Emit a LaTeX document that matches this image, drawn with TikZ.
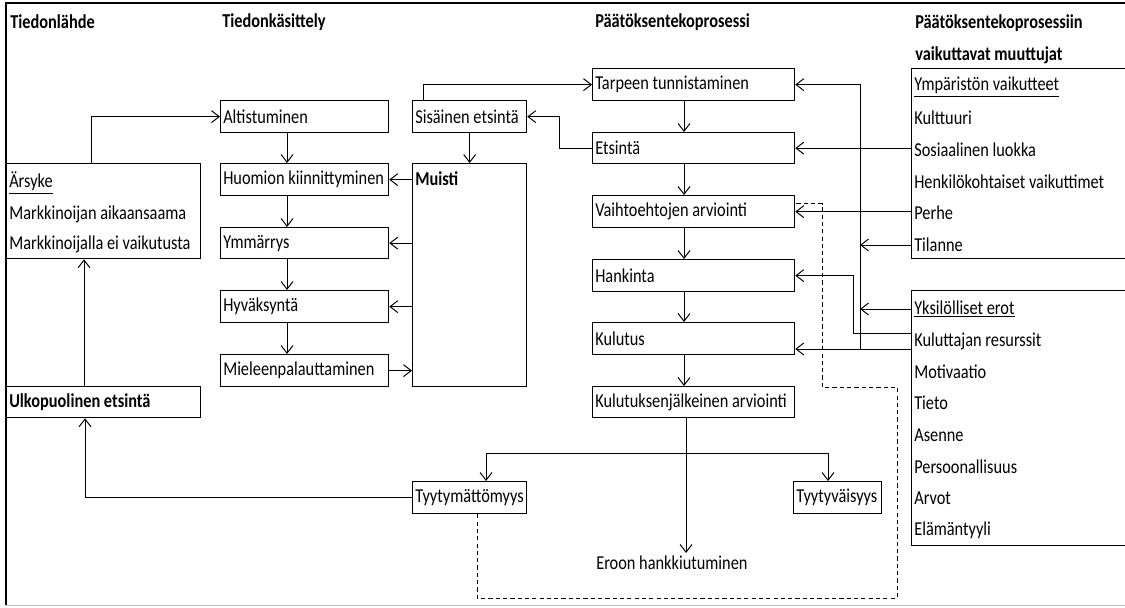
\documentclass[tikz,border=0pt]{standalone}
\usepackage{fontspec}
\setmainfont{Carlito}[FakeStretch=0.83]
\usetikzlibrary{arrows.meta,positioning}
\tikzset{
  laatikko/.style={draw,line width=0.9pt,anchor=north west,inner sep=0pt},
  rivi/.style={anchor=west,inner sep=0pt},
  otsikko/.style={anchor=west,inner sep=0pt,font=\fontsize{14}{16}\selectfont\bfseries},
  nuoli/.style={-{Straight Barb[length=5.5pt,width=8.5pt]},line width=0.7pt},
  katko/.style={line width=0.7pt,dash pattern=on 3pt off 2.2pt},
}
\begin{document}
\begin{tikzpicture}[x=0.025cm,y=-0.025cm,font=\fontsize{14}{16}\selectfont]
\useasboundingbox (0,0) rectangle (1125,607);
% kehys
\draw[line width=1.4pt] (1125,3) -| (6,605);
\draw[black!25] (6,605) -- (1125,605);
% otsikot
\node[otsikko] (o1) at (10,22) {Tiedonlähde};
\node[otsikko] (o2) at (222,22) {Tiedonkäsittely};
\node[otsikko] (o3) at (595,22) {Päätöksentekoprosessi};
\node[otsikko] (o4) at (915,23) {Päätöksentekoprosessiin};
\node[otsikko] (o5) at (915,55) {vaikuttavat muuttujat};
% yhden rivin laatikot
\foreach \nimi/\x/\y/\w/\h/\teksti in {
  alt/220/100/168/32/Altistuminen,
  huo/220/163/168/32/Huomion kiinnittyminen,
  ymm/220/227/168/31/Ymmärrys,
  hyv/220/290/168/32/Hyväksyntä,
  mie/220/354/168/32/Mieleenpalauttaminen,
  sis/412/100/114/32/Sisäinen etsintä,
  tar/592/68/202/32/Tarpeen tunnistaminen,
  ets/592/132/202/31/Etsintä,
  vai/592/195/202/32/Vaihtoehtojen arviointi,
  han/592/259/202/32/Hankinta,
  kul/592/322/202/32/Kulutus,
  kja/592/386/202/31/Kulutuksenjälkeinen arviointi,
  tym/412/481/114/32/Tyytymättömyys,
  tyv/793/481/88/32/Tyytyväisyys} {
  \node[laatikko,minimum width=\w*0.025cm,minimum height=\h*0.025cm] (\nimi) at (\x,\y) {};
  \node[rivi] (\nimi-t) at ([xshift=0.075cm]\nimi.west) {\teksti};
}
\node[laatikko,minimum width=194*0.025cm,minimum height=31*0.025cm] (ulk) at (6,386) {};
\node[rivi,font=\fontsize{14}{16}\selectfont\bfseries] (ulk-t) at ([xshift=0.075cm]ulk.west) {Ulkopuolinen etsintä};
\node[laatikko,minimum width=114*0.025cm,minimum height=223*0.025cm] (mui) at (412,163) {};
\node[rivi,font=\fontsize{14}{16}\selectfont\bfseries] (mui-t) at (415,179) {Muisti};
\node[rivi] (ero) at (596,563) {Eroon hankkiutuminen};
% usean rivin laatikot
\node[laatikko,minimum width=194*0.025cm,minimum height=95*0.025cm] (ars) at (6,163) {};
\foreach \y/\teksti [count=\i] in {183/\underline{Ärsyke},214/Markkinoijan aikaansaama,
  244/Markkinoijalla ei vaikutusta}
  \node[rivi] (ars\i) at (9,\y) {\teksti};
\node[laatikko,minimum width=225*0.025cm,minimum height=190*0.025cm] (ymp) at (911,68) {};
\foreach \y/\teksti [count=\i] in {87/\underline{Ympäristön vaikutteet},118/Kulttuuri,
  150/Sosiaalinen luokka,182/Henkilökohtaiset vaikuttimet,213/Perhe,245/Tilanne}
  \node[rivi] (ymp\i) at (914,\y) {\teksti};
\node[laatikko,minimum width=225*0.025cm,minimum height=255*0.025cm] (yks) at (911,290) {};
\foreach \y/\teksti [count=\i] in {309/\underline{Yksilölliset erot},341/Kuluttajan resurssit,
  372/Motivaatio,403/Tieto,435/Asenne,467/Persoonallisuus,498/Arvot,530/Elämäntyyli}
  \node[rivi] (yks\i) at (914,\y) {\teksti};
% tiedonkasittely
\draw[nuoli] (ars.north west) ++(85,0) |- (alt.west);
\foreach \a/\b in {alt/huo,huo/ymm,ymm/hyv,hyv/mie}
  \draw[nuoli] ([xshift=1.675cm]\a.south west) -- ([xshift=1.675cm]\b.north west);
\foreach \b in {huo,ymm,hyv}
  \draw[nuoli] (mui.west |- \b.east) -- (\b.east);
\draw[nuoli] (mie.east) -- (mie.east -| mui.west);
\draw[nuoli] (sis.south) -- (mui.north);
\draw[nuoli] ([xshift=0.275cm]sis.north west) |- (tar.west);
\draw[nuoli] (ets.west) -- ++(-33,0) |- (sis.east);
% paatoksenteko
\foreach \a/\b in {tar/ets,ets/vai,vai/han,han/kul,kul/kja}
  \draw[nuoli] ([xshift=2.3cm]\a.south west) -- ([xshift=2.3cm]\b.north west);
\draw[nuoli] ([xshift=2.35cm]kja.south west) coordinate (haara) -- ([yshift=2pt]haara |- ero.north);
\coordinate (jako) at (686,453);
\draw[nuoli] (jako) -| ([xshift=1.85cm]tym.north west);
\draw[nuoli] (jako) -| ([xshift=0.875cm]tyv.north west);
\draw[nuoli] (tym.west) -| ([xshift=1.975cm]ulk.south west);
\draw[nuoli] ([xshift=1.95cm]ulk.north west) -- ([xshift=1.95cm]ars.south west);
% muuttujat
\coordinate (pysty) at (860,0);
\coordinate (pysty2) at (853,0);
\draw[nuoli] (ets.east -| ymp.west) -- (ets.east);
\draw[nuoli] (vai.east -| ymp.west) -- (vai.east);
\draw[nuoli] (ymp6.west -| ymp.west) -- (ymp6.west -| pysty);
\draw[nuoli] (yks1.west -| yks.west) -- (yks1.west -| pysty);
\draw[nuoli] (yks2.west -| yks.west) ++(0,-8) coordinate (k1) -| (pysty2 |- han.east) -- (han.east);
\draw[nuoli] (yks2.west -| yks.west) ++(0,8) coordinate (k2) -- (k2 -| kul.east);
\draw[nuoli] (k2 -| pysty) |- (tar.east);
% katkoviiva
\coordinate (d1) at (822,387);
\coordinate (d2) at (897,598);
\draw[katko] ([xshift=1.625cm]tym.south west) |- (d2) |- (d1) |- ([yshift=0.2cm]vai.east);
\end{tikzpicture}
\end{document}
